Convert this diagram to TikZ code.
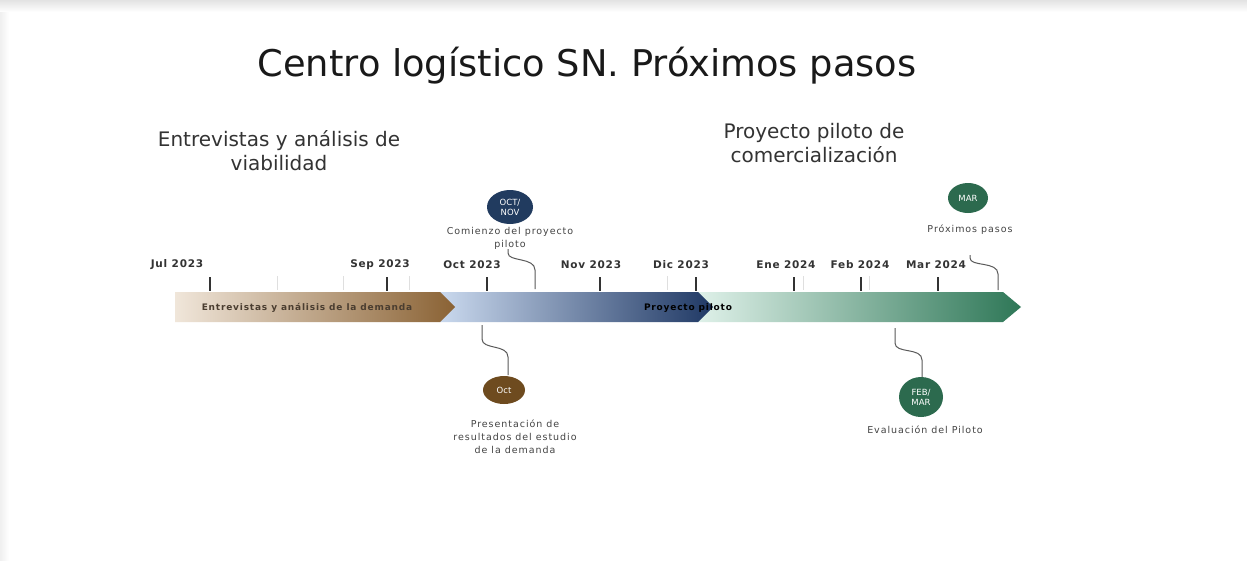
\documentclass[tikz,border=0pt]{standalone}
\usepackage{fontspec}
\setmainfont{DejaVu Sans}
\usetikzlibrary{shapes.geometric}
\definecolor{txt}{HTML}{333333}
\definecolor{lbl}{HTML}{444444}
\definecolor{barTxt}{HTML}{4A3D30}
\definecolor{brownL}{HTML}{F0E6DA}
\definecolor{brownR}{HTML}{8A6234}
\definecolor{blueL}{HTML}{CAD9EE}
\definecolor{blueR}{HTML}{1F3864}
\definecolor{greenL}{HTML}{DFF1E9}
\definecolor{greenR}{HTML}{2E7757}
\definecolor{cBrown}{HTML}{6E4B1F}
\definecolor{cNavy}{HTML}{213B5F}
\definecolor{cGreen}{HTML}{2C6A4E}
\tikzset{
  head/.style={font=\fontsize{20}{24}\selectfont, text=txt, align=center, inner sep=0pt},
  month/.style={font=\fontsize{10.5}{12}\selectfont\bfseries\addfontfeatures{LetterSpace=7}, text=txt, inner sep=0pt},
  tickmark/.style={draw=txt, line width=1.3pt},
  faint/.style={draw=gray!25, line width=0.8pt},
  barlabel/.style={font=\fontsize{9}{11}\selectfont\bfseries\addfontfeatures{LetterSpace=9}, inner sep=0pt},
  small/.style={font=\fontsize{9.5}{13}\selectfont\addfontfeatures{LetterSpace=10}, text=lbl, align=center, inner sep=0pt},
  badge/.style={ellipse, fill=#1, text=white, inner sep=0pt, font=\fontsize{8.5}{10}\selectfont, align=center},
  conn/.style={draw=gray!70!black, line width=1pt},
}
\begin{document}
\begin{tikzpicture}[x=1pt,y=-1pt]
\useasboundingbox (0,0) rectangle (1247,560);
% page and shadow
\fill[white] (0,0) rectangle (1247,560);
\shade[top color=gray!22, bottom color=white] (0,0) rectangle (1247,12);
\shade[left color=gray!12, right color=white] (0,12) rectangle (9,560);
\fill[white] (9,12) rectangle (1247,560);

% title
\node[font=\fontsize{36.8}{40}\selectfont, text=black!90, inner sep=0pt] (title) at (587,66) {Centro logístico SN. Próximos pasos};

\node[head] (h1) at (279,151) {Entrevistas y análisis de\\viabilidad};
\node[head] (h2) at (814,143) {Proyecto piloto de\\comercialización};

% bars (green, blue, brown)
\shade[left color=greenL, right color=greenR] (698,292) -- (1003,292) -- (1021,307) -- (1003,322) -- (698,322) -- cycle;
\shade[left color=blueL, right color=blueR] (440,292) -- (698,292) -- (713,307) -- (698,322) -- (440,322) -- cycle;
\shade[left color=brownL, right color=brownR] (175,292) -- (440,292) -- (455,307) -- (440,322) -- (175,322) -- cycle;

\node[barlabel, text=barTxt] (b1) at (307,308) {Entrevistas y análisis de la demanda};
\node[barlabel, text=black] (b2) at (688,308) {Proyecto piloto};

% faint ticks
\foreach \x in {277,343,409,667,803,869} \draw[faint] (\x,276) -- (\x,290);
% ticks and month labels
\foreach \x/\lx/\t in {210/177/Jul 2023,387/380/Sep 2023,487/472/Oct 2023,600/591/Nov 2023,696/681/Dic 2023,794/786/Ene 2024,861/860/Feb 2024,938/936/Mar 2024}{
  \draw[tickmark] (\x,277) -- (\x,291);
  \node[month] at (\lx,265) {\t};
}

% milestone above: OCT/NOV
\node[badge=cNavy, minimum width=46pt, minimum height=34pt] (m1) at (510,207) {OCT/\\NOV};
\node[small] (l1) at (510,238) {Comienzo del proyecto\\piloto};
\coordinate (c1a) at (508,249);
\coordinate (c1b) at (535,289);
\draw[conn] (c1a) -- (508,253) .. controls (508,262) and (535,257) .. (535,270) -- (c1b);

% milestone above: MAR
\node[badge=cGreen, minimum width=40pt, minimum height=30pt] (m2) at (968,198) {MAR};
\node[small] (l2) at (970,230) {Próximos pasos};
\coordinate (c2a) at (970,255);
\coordinate (c2b) at (998,290);
\draw[conn] (c2a) -- (970,258) .. controls (970,267) and (998,261) .. (998,274) -- (c2b);

% milestone below: Oct
\coordinate (c3a) at (482,325);
\node[badge=cBrown, minimum width=42pt, minimum height=28pt] (m3) at (504,390) {Oct};
\draw[conn] (c3a) -- (482,339) .. controls (482,350) and (508,344) .. (508,357) -- (508,375);
\node[small] (l3) at (515,437) {Presentación de\\resultados del estudio\\de la demanda};

% milestone below: FEB/MAR
\coordinate (c4a) at (895,328);
\node[badge=cGreen, minimum width=44pt, minimum height=40pt] (m4) at (921,397) {FEB/\\MAR};
\draw[conn] (c4a) -- (895,343) .. controls (895,354) and (922,347) .. (922,360) -- (922,377);
\node[small] (l4) at (925,430) {Evaluación del Piloto};
\end{tikzpicture}
\end{document}
